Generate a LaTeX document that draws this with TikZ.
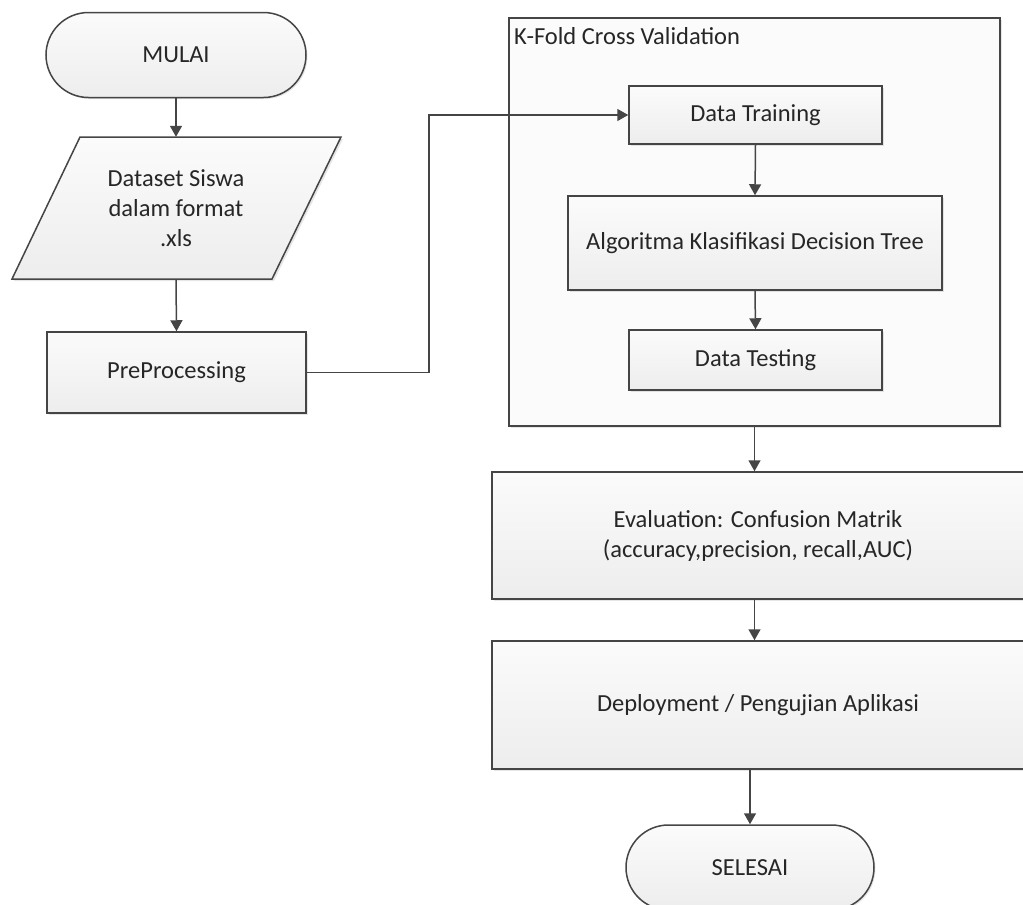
\documentclass[tikz,border=0pt]{standalone}
\usepackage{fontspec}
\setmainfont{Carlito}
\usetikzlibrary{arrows.meta,shapes.misc,shadows}
\definecolor{lineC}{HTML}{454545}
\definecolor{txtC}{HTML}{262626}
\definecolor{topC}{HTML}{FBFBFB}
\definecolor{botC}{HTML}{EDEDED}
\begin{document}
\begin{tikzpicture}[x=1pt,y=-1pt,
  font=\fontsize{24.5}{30}\selectfont, text=txtC,
  boxstyle/.style={draw=lineC, line width=1.5pt, top color=topC, bottom color=botC,
     drop shadow={shadow xshift=1.5pt, shadow yshift=-1.5pt, opacity=0.2, fill=gray},
     align=center, inner sep=0pt},
  termstyle/.style={boxstyle, rounded rectangle},
  arr/.style={draw=lineC, line width=1.5pt, -{Triangle[width=12pt,length=11pt]}}
]
\useasboundingbox (0,0) rectangle (1023,905);

% K-Fold container
\node[draw=lineC, line width=1.5pt, fill=white!97!gray, minimum width=491pt, minimum height=408pt,
      drop shadow={shadow xshift=1.5pt, shadow yshift=-1.5pt, opacity=0.2, fill=gray}]
  (kfold) at (754.5,222) {};
\node[anchor=west, inner sep=0pt] (kfoldlbl) at (514,36) {K-Fold Cross Validation};

\node[termstyle, minimum width=260pt, minimum height=85pt] (mulai) at (176,55) {MULAI};

% parallelogram
\fill[gray, opacity=0.2] (82,139) -- (343,139) -- (274,281) -- (14,281) -- cycle;
\draw[line width=1.5pt, draw=lineC, top color=topC, bottom color=botC]
  (80,137) -- (341,137) -- (272,279) -- (12,279) -- cycle;
\node[minimum width=200pt, minimum height=142pt, inner sep=0pt, align=center] (ds) at (176,208)
  {Dataset Siswa\\dalam format\\.xls};

\node[boxstyle, minimum width=259pt, minimum height=81pt] (pre) at (176.5,372.5) {PreProcessing};

\node[boxstyle, minimum width=253pt, minimum height=58pt] (train) at (755.5,115) {Data Training};
\node[boxstyle, minimum width=374pt, minimum height=94pt] (algo) at (755,243) {Algoritma Klasifikasi Decision Tree};
\node[boxstyle, minimum width=253pt, minimum height=60pt] (test) at (755.5,360) {Data Testing};

\node[boxstyle, minimum width=532pt, minimum height=127pt] (eval) at (758,535.5)
  {Evaluation: Confusion Matrik\\(accuracy,precision, recall,AUC)};
\node[boxstyle, minimum width=532pt, minimum height=128pt] (deploy) at (758,705)
  {Deployment / Pengujian Aplikasi};

\node[termstyle, minimum width=248pt, minimum height=85pt] (selesai) at (750,867.5) {SELESAI};

\coordinate (bend) at (429,0);

\draw[arr] (mulai.south) -- (ds.north);
\draw[arr] (ds.south) -- (pre.north);
\draw[arr] (pre.east) -- (pre.east -| bend) |- (train.west);
\draw[arr] (train.south) -- (algo.north);
\draw[arr] (algo.south) -- (test.north);
\draw[arr] (kfold.south) -- (kfold.south |- eval.north);
\draw[arr] (eval.south -| kfold.south) -- (kfold.south |- deploy.north);
\draw[arr] (deploy.south -| selesai.north) -- (selesai.north);
\end{tikzpicture}
\end{document}
